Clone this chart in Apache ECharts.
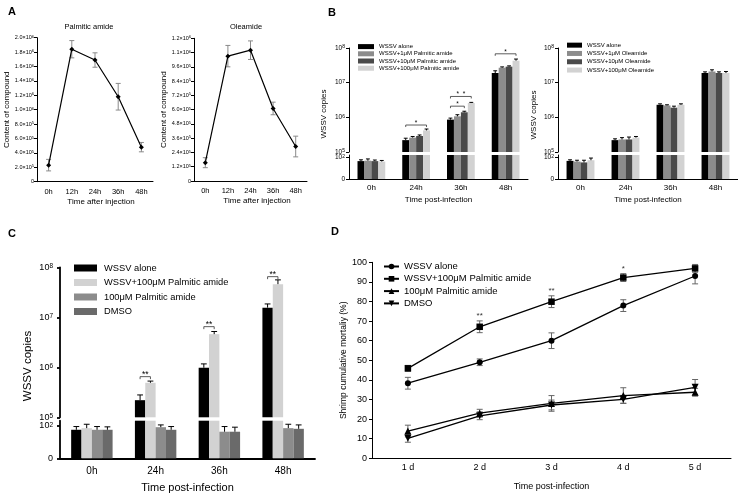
<!DOCTYPE html>
<html><head><meta charset="utf-8">
<script src="https://cdn.jsdelivr.net/npm/echarts@6/dist/echarts.min.js"></script>
<style>html,body{margin:0;padding:0;background:#fff}#c{width:738px;height:497px}</style>
</head><body><div id="c"></div>
<script>
// ================= DATA =================
// Panel A (content, units of 10^5)
const timeA = ['0h', '12h', '24h', '36h', '48h'];
const palmiticContent = [2.3, 18.4, 16.9, 11.8, 4.8];
const palmiticErr = [0.8, 1.2, 1.0, 1.85, 0.65];
const oleamideContent = [1.54, 10.5, 11.0, 6.1, 2.9];
const oleamideErr = [0.42, 0.9, 0.78, 0.53, 0.87];

// Panel B (WSSV copies)
const timeB = ['0h', '24h', '36h', '48h'];
const palNamesB = ['WSSV alone', 'WSSV+1μM Palmitic amide', 'WSSV+10μM Palmitic amide', 'WSSV+100μM Palmitic amide'];
const palB_alone = [82, 2.2e5, 8.6e5, 1.9e7];
const palB_1 = [84, 2.6e5, 1.07e6, 2.7e7];
const palB_10 = [82, 2.9e5, 1.4e6, 2.9e7];
const palB_100 = [80, 4.2e5, 2.6e6, 4.3e7];
const palB_aloneErr = [6, 0.3e5, 0.9e5, 3e6];
const palB_1Err = [8, 0.2e5, 1.2e5, 1.5e6];
const palB_10Err = [5, 0.2e5, 1.0e5, 1.5e6];
const palB_100Err = [5, 0.4e5, 1.0e5, 5e6];
const sigB1 = [[1, 0, 3, 6.0e5, '*'], [2, 0, 2, 2.1e6, '*'], [2, 0, 3, 4.0e6, '*  *'], [3, 0, 3, 6.8e7, '*']];

const oleNamesB = ['WSSV alone', 'WSSV+1μM Oleamide', 'WSSV+10μM Oleamide', 'WSSV+100μM Oleamide'];
const oleB_alone = [83, 2.2e5, 2.3e6, 1.9e7];
const oleB_1 = [80, 2.3e5, 2.2e6, 2.1e7];
const oleB_10 = [76, 2.3e5, 1.9e6, 1.9e7];
const oleB_100 = [86, 2.6e5, 2.3e6, 1.9e7];
const oleB_aloneErr = [5, 0.2e5, 1.5e5, 1.5e6];
const oleB_1Err = [6, 0.3e5, 1.0e5, 2.5e6];
const oleB_10Err = [10, 0.4e5, 2.0e5, 1.5e6];
const oleB_100Err = [10, 0.2e5, 1.5e5, 2.0e6];

// Panel C
const timeC = ['0h', '24h', '36h', '48h'];
const namesC = ['WSSV alone', 'WSSV+100μM Palmitic amide', '100μM Palmitic amide', 'DMSO'];
const cAlone = [88, 2.2e5, 9.8e5, 1.56e7];
const cWssvPal = [93, 4.9e5, 4.6e6, 4.6e7];
const cPal = [88, 96, 82, 93];
const cDmso = [88, 88, 82, 91];
const cAloneErr = [10, 0.6e5, 1.9e5, 2.9e6];
const cWssvPalErr = [12, 0.4e5, 0.6e6, 1.0e7];
const cPalErr = [10, 7, 16, 12];
const cDmsoErr = [9, 10, 14, 12];
const sigC = [[1, 0, 1, 6.5e5, '**'], [2, 0, 1, 6.5e6, '**'], [3, 0, 1, 6.5e7, '**']];

// Panel D (cumulative mortality %)
const timeD = ['1 d', '2 d', '3 d', '4 d', '5 d'];
const namesD = ['WSSV alone', 'WSSV+100μM Palmitic amide', '100μM Palmitic amide', 'DMSO'];
const dAlone = [38.3, 49.0, 60.0, 77.9, 93.0];
const dWssvPal = [45.9, 67.1, 79.9, 92.2, 96.9];
const dPal = [13.9, 23.0, 28.0, 32.0, 33.7];
const dDmso = [10.2, 21.7, 27.2, 30.1, 36.2];
const dAloneErr = [3, 1.7, 4, 3, 4];
const dWssvPalErr = [1.5, 3, 3, 2, 2];
const dPalErr = [3, 2, 4, 4, 2];
const dDmsoErr = [2, 2, 2.5, 2, 4];
const sigD = [[1, 72.5, '**'], [2, 85.5, '**'], [3, 96.5, '*']];

// ================= STYLE / HELPERS =================
const FONT = '"Liberation Sans", Arial, Helvetica, sans-serif';
const colB = ['#000000', '#8c8c8c', '#4a4a4a', '#d2d2d2'];
const colC = ['#000000', '#d2d2d2', '#8c8c8c', '#6a6a6a'];
const gapB = 0.38, gapC = 0.35;
const lowB = 110, lowC = 116;
const ZW = '\u200b';

function sci(x) {
  let e = Math.floor(Math.log10(x) + 1e-9);
  let s = (x / Math.pow(10, e)).toFixed(1);
  if (s === '10.0') { s = '1.0'; e++; }
  return '{m|' + s + '×10}{s|' + e + '}';
}
function pow10(v) { return '{m|10}{s|' + Math.round(Math.log10(v)) + '}'; }

function richSet(m, s) {
  return { m: { fontSize: m, fontFamily: FONT, color: '#000' }, s: { fontSize: s, fontFamily: FONT, color: '#000', verticalAlign: 'top' } };
}

function catAxis(gi, data, o) {
  return Object.assign({
    type: 'category', gridIndex: gi, data,
    axisLine: { lineStyle: { color: '#000', width: o.lw || 1 } },
    axisTick: { alignWithLabel: true, length: 3, lineStyle: { color: '#000', width: o.lw || 1 } },
    axisLabel: { color: '#000', fontSize: o.fs, margin: o.margin, fontFamily: FONT },
    name: o.name, nameLocation: 'middle', nameGap: o.nameGap,
    nameTextStyle: { fontSize: o.nfs, fontFamily: FONT, color: '#000' }
  });
}
function hiddenCat(gi, data) { return { type: 'category', gridIndex: gi, data, show: false }; }

function logAxis(gi, fs, sfs, lw) {
  return {
    type: 'log', gridIndex: gi, logBase: 10, min: 1e5, max: 1e8, startValue: 1e5,
    axisLine: { show: true, lineStyle: { color: '#000', width: lw } },
    axisTick: { show: true, length: 3, lineStyle: { color: '#000', width: lw } },
    splitLine: { show: false },
    axisLabel: { formatter: pow10, margin: 4, rich: richSet(fs, sfs) }
  };
}
function lowAxis(gi, max, fs, sfs, lw) {
  return {
    type: 'value', gridIndex: gi, min: 0, max: max, interval: 100,
    axisLine: { show: true, lineStyle: { color: '#000', width: lw } },
    axisTick: { show: true, length: 3, customValues: [0, 100], lineStyle: { color: '#000', width: lw } },
    splitLine: { show: false },
    axisLabel: { customValues: [0, 100], margin: 4, formatter: v => v === 0 ? '{m|0}' : (v === 100 ? '{m|10}{s|2}' : ''), rich: richSet(fs, sfs) }
  };
}

function symErr(ai, means, errs, color, cap) {
  return {
    type: 'custom', xAxisIndex: ai, yAxisIndex: ai, z: 1, silent: true,
    data: means.map((m, i) => [i, m, errs[i]]),
    renderItem(params, api) {
      const c = api.value(0), m = api.value(1), e = api.value(2);
      const t = api.coord([c, m + e]), b = api.coord([c, m - e]);
      const x = t[0], st = { stroke: color, lineWidth: 1 };
      return { type: 'group', children: [
        { type: 'line', shape: { x1: x, y1: t[1], x2: x, y2: b[1] }, style: st },
        { type: 'line', shape: { x1: x - cap, y1: t[1], x2: x + cap, y2: t[1] }, style: st },
        { type: 'line', shape: { x1: x - cap, y1: b[1], x2: x + cap, y2: b[1] }, style: st }
      ] };
    }
  };
}

function barErr(ai, vals, errs, idx, n, gap, upper, lowMax) {
  const data = [];
  vals.forEach((v, c) => { if (upper ? v >= 1e5 : v < lowMax) data.push([c, v, errs[c]]); });
  return {
    type: 'custom', xAxisIndex: ai, yAxisIndex: ai, z: 3, silent: true, data,
    renderItem(params, api) {
      const c = api.value(0), v = api.value(1), e = api.value(2);
      const band = api.size([1, 0], [c, v])[0];
      const gw = band * (1 - gap), bw = gw / n;
      const p0 = api.coord([c, v]), p1 = api.coord([c, v + e]);
      const x = p0[0] - gw / 2 + bw * (idx + 0.5);
      const cap = Math.max(1.5, bw * 0.28);
      const st = { stroke: '#000', lineWidth: 1 };
      return { type: 'group', children: [
        { type: 'line', shape: { x1: x, y1: p0[1], x2: x, y2: p1[1] }, style: st },
        { type: 'line', shape: { x1: x - cap, y1: p1[1], x2: x + cap, y2: p1[1] }, style: st }
      ] };
    }
  };
}

function bracket(ai, n, gap, items, fs, tick) {
  return {
    type: 'custom', xAxisIndex: ai, yAxisIndex: ai, z: 4, silent: true,
    data: items.map(d => [d[0], d[1], d[2], d[3]]),
    renderItem(params, api) {
      const c = api.value(0), i1 = api.value(1), i2 = api.value(2), y = api.value(3);
      const band = api.size([1, 0], [c, y])[0];
      const gw = band * (1 - gap), bw = gw / n;
      const p = api.coord([c, y]);
      const xa = p[0] - gw / 2 + bw * (i1 + 0.5), xb = p[0] - gw / 2 + bw * (i2 + 0.5);
      return { type: 'group', children: [
        { type: 'polyline', shape: { points: [[xa, p[1] + tick], [xa, p[1]], [xb, p[1]], [xb, p[1] + tick]] }, style: { stroke: '#333', lineWidth: 0.8, fill: null } },
        { type: 'text', style: { text: items[params.dataIndex][4], x: (xa + xb) / 2, y: p[1] - 2, align: 'center', verticalAlign: 'middle', fontSize: fs, fontFamily: FONT, fill: '#000' } }
      ] };
    }
  };
}

function starText(ai, items, fs) {
  return {
    type: 'custom', xAxisIndex: ai, yAxisIndex: ai, z: 4, silent: true,
    data: items.map(d => [d[0], d[1]]),
    renderItem(params, api) {
      const p = api.coord([api.value(0), api.value(1)]);
      return { type: 'text', style: { text: items[params.dataIndex][2], x: p[0], y: p[1], align: 'center', verticalAlign: 'middle', fontSize: fs, fontFamily: FONT, fill: '#333' } };
    }
  };
}

function barPair(upAi, lowAi, name, vals, color, gap, lowMax) {
  const common = { type: 'bar', name, barGap: '0%', barCategoryGap: (gap * 100) + '%', itemStyle: { color }, silent: true };
  return [
    Object.assign({}, common, { xAxisIndex: upAi, yAxisIndex: upAi, clip: true, data: vals.map(v => v >= 1e5 ? v : '-') }),
    Object.assign({}, common, { xAxisIndex: lowAi, yAxisIndex: lowAi, clip: true, data: vals.map(v => Math.min(v, lowMax)) })
  ];
}

function gtext(x, y, text, fs, extra) {
  return Object.assign({ type: 'text', x, y, silent: true,
    style: { text, fontSize: fs, fontFamily: FONT, fill: '#000', align: 'center', verticalAlign: 'middle', fontWeight: (extra && extra.bold) ? 'bold' : 'normal' } },
    extra && extra.rot ? { rotation: Math.PI / 2 } : {});
}

// ================= OPTION =================
const grids = [
  { left: 37, top: 37.7, width: 116, height: 144 },     // 0 A1
  { left: 194, top: 38.3, width: 113, height: 142.7 },  // 1 A2
  { left: 349, top: 48, width: 179, height: 104 },      // 2 B1 upper
  { left: 349, top: 155, width: 179, height: 24 },      // 3 B1 lower
  { left: 558, top: 48, width: 180, height: 104 },      // 4 B2 upper
  { left: 558, top: 155, width: 180, height: 24 },      // 5 B2 lower
  { left: 60, top: 267.3, width: 255, height: 150 },    // 6 C upper
  { left: 60, top: 420.7, width: 255, height: 37.6 },   // 7 C lower
  { left: 372, top: 262.3, width: 359, height: 196 }    // 8 D
].map(g => Object.assign({ containLabel: false, outerBoundsMode: 'none' }, g));

const xAxis = [
  catAxis(0, timeA, { fs: 7.5, margin: 6, nfs: 8 }),
  catAxis(1, timeA, { fs: 7.5, margin: 6, nfs: 8 }),
  hiddenCat(2, timeB),
  catAxis(3, timeB, { fs: 8, margin: 5, name: 'Time post-infection', nameGap: 17, nfs: 8 }),
  hiddenCat(4, timeB),
  catAxis(5, timeB, { fs: 8, margin: 5, name: 'Time post-infection', nameGap: 17, nfs: 8 }),
  hiddenCat(6, timeC),
  catAxis(7, timeC, { fs: 10, margin: 8, name: 'Time post-infection', nameGap: 24, nfs: 11, lw: 1.8 }),
  catAxis(8, timeD, { fs: 9, margin: 5, name: 'Time post-infection', nameGap: 24, nfs: 9 })
];

const aY = (gi, max, itv, gap) => ({
  type: 'value', gridIndex: gi, min: 0, max, interval: itv,
  axisLine: { show: true, lineStyle: { color: '#000' } },
  axisTick: { show: true, length: 3, lineStyle: { color: '#000' } },
  splitLine: { show: false },
  axisLabel: { margin: 3, formatter: v => v === 0 ? '{m|0}' : sci(v * 1e5), rich: richSet(5.5, 4) },
  name: 'Content of compound', nameLocation: 'middle', nameGap: gap,
  nameTextStyle: { fontSize: 8, fontFamily: FONT, color: '#000' }
});

const yAxis = [
  aY(0, 20, 2, 25),
  aY(1, 12, 1.2, 25),
  logAxis(2, 6.5, 5, 1),
  lowAxis(3, lowB, 6.5, 5, 1),
  logAxis(4, 6.5, 5, 1),
  lowAxis(5, lowB, 6.5, 5, 1),
  Object.assign(logAxis(6, 9, 6.5, 1.8), { axisLabel: { formatter: pow10, margin: 7, rich: richSet(9, 6.5) } }),
  Object.assign(lowAxis(7, lowC, 9, 6.5, 1.8), {}),
  {
    type: 'value', gridIndex: 8, min: 0, max: 100, interval: 10,
    axisLine: { show: true, lineStyle: { color: '#000' } },
    axisTick: { show: true, length: 3, lineStyle: { color: '#000' } },
    splitLine: { show: false },
    axisLabel: { margin: 5, fontSize: 9, color: '#000', fontFamily: FONT },
    name: 'Shrimp cumulative mortaliy (%)', nameLocation: 'middle', nameGap: 22,
    nameTextStyle: { fontSize: 8.5, fontFamily: FONT, color: '#000' }
  }
];
yAxis[7].axisLabel.margin = 7;

const series = [];
// Panel A
series.push(symErr(0, palmiticContent, palmiticErr, '#8a8a8a', 2.5));
series.push({ type: 'line', xAxisIndex: 0, yAxisIndex: 0, data: palmiticContent, symbol: 'diamond', symbolSize: 5, z: 2,
  lineStyle: { color: '#000', width: 1.2 }, itemStyle: { color: '#000' }, silent: true });
series.push(symErr(1, oleamideContent, oleamideErr, '#8a8a8a', 2.5));
series.push({ type: 'line', xAxisIndex: 1, yAxisIndex: 1, data: oleamideContent, symbol: 'diamond', symbolSize: 5, z: 2,
  lineStyle: { color: '#000', width: 1.2 }, itemStyle: { color: '#000' }, silent: true });

// Panel B1
const b1Vals = [palB_alone, palB_1, palB_10, palB_100];
const b1Errs = [palB_aloneErr, palB_1Err, palB_10Err, palB_100Err];
b1Vals.forEach((v, i) => series.push(...barPair(2, 3, palNamesB[i], v, colB[i], gapB, lowB)));
b1Vals.forEach((v, i) => { series.push(barErr(2, v, b1Errs[i], i, 4, gapB, true)); series.push(barErr(3, v, b1Errs[i], i, 4, gapB, false, lowB)); });
series.push(bracket(2, 4, gapB, sigB1, 6.5, 2));

// Panel B2
const b2Vals = [oleB_alone, oleB_1, oleB_10, oleB_100];
const b2Errs = [oleB_aloneErr, oleB_1Err, oleB_10Err, oleB_100Err];
b2Vals.forEach((v, i) => series.push(...barPair(4, 5, oleNamesB[i], v, colB[i], gapB, lowB)));
b2Vals.forEach((v, i) => { series.push(barErr(4, v, b2Errs[i], i, 4, gapB, true)); series.push(barErr(5, v, b2Errs[i], i, 4, gapB, false, lowB)); });

// Panel C
const cVals = [cAlone, cWssvPal, cPal, cDmso];
const cErrs = [cAloneErr, cWssvPalErr, cPalErr, cDmsoErr];
cVals.forEach((v, i) => series.push(...barPair(6, 7, namesC[i], v, colC[i], gapC, lowC)));
cVals.forEach((v, i) => { series.push(barErr(6, v, cErrs[i], i, 4, gapC, true)); series.push(barErr(7, v, cErrs[i], i, 4, gapC, false, lowC)); });
series.push(bracket(6, 4, gapC, sigC, 8.5, 2.5));

// Panel D
const dVals = [dAlone, dWssvPal, dPal, dDmso];
const dErrs = [dAloneErr, dWssvPalErr, dPalErr, dDmsoErr];
const dSym = ['circle', 'rect', 'triangle', 'triangle'];
const dSize = [6, 6.5, 7, 7];
const dRot = [0, 0, 0, 180];
dVals.forEach((v, i) => series.push(symErr(8, v, dErrs[i], '#666', 3)));
dVals.forEach((v, i) => series.push({
  type: 'line', name: namesD[i] + ZW, xAxisIndex: 8, yAxisIndex: 8, data: v, z: 2, silent: true,
  symbol: dSym[i], symbolSize: dSize[i], symbolRotate: dRot[i], showAllSymbol: true,
  lineStyle: { color: '#000', width: 1.3 }, itemStyle: { color: '#000' }
}));
series.push(starText(8, sigD, 8));

const legendBase = { orient: 'vertical', padding: 0, selectedMode: false };
const legend = [
  Object.assign({}, legendBase, { data: palNamesB, left: 358, top: 43, icon: 'rect', itemWidth: 16, itemHeight: 5, itemGap: 0,
    textStyle: { fontSize: 6, lineHeight: 7.2, fontFamily: FONT, color: '#000' } }),
  Object.assign({}, legendBase, { data: oleNamesB, left: 567, top: 41, icon: 'rect', itemWidth: 15, itemHeight: 5, itemGap: 0,
    textStyle: { fontSize: 6, lineHeight: 8.3, fontFamily: FONT, color: '#000' } }),
  Object.assign({}, legendBase, { data: namesC, left: 74, top: 262, icon: 'rect', itemWidth: 23, itemHeight: 7, itemGap: 2.5,
    textStyle: { fontSize: 9.3, lineHeight: 12, fontFamily: FONT, color: '#000', padding: [0, 0, 0, 2] } }),
  Object.assign({}, legendBase, { data: namesD.map(n => n + ZW), left: 383, top: 260.5, itemWidth: 15, itemHeight: 7, itemGap: 0.3,
    textStyle: { fontSize: 9.5, lineHeight: 12, fontFamily: FONT, color: '#000' } })
];

const graphic = [
  gtext(12, 12, 'A', 11, { bold: true }),
  gtext(332, 13, 'B', 11, { bold: true }),
  gtext(12, 234, 'C', 11, { bold: true }),
  gtext(335, 232, 'D', 11, { bold: true }),
  gtext(89, 27, 'Palmitic amide', 7.5),
  gtext(246, 27, 'Oleamide', 7.5),
  gtext(101, 202, 'Time after injection', 8),
  gtext(257, 201, 'Time after injection', 8),
  gtext(324, 114, 'WSSV copies', 8, { rot: true }),
  gtext(534, 115, 'WSSV copies', 8, { rot: true }),
  gtext(28, 366, 'WSSV copies', 11.5, { rot: true })
];

const chart = echarts.init(document.getElementById('c'), null, { renderer: 'canvas' });
chart.setOption({
  animation: false,
  backgroundColor: '#fff',
  textStyle: { fontFamily: FONT, color: '#000' },
  grid: grids, xAxis, yAxis, series, legend, graphic
});
</script></body></html>
